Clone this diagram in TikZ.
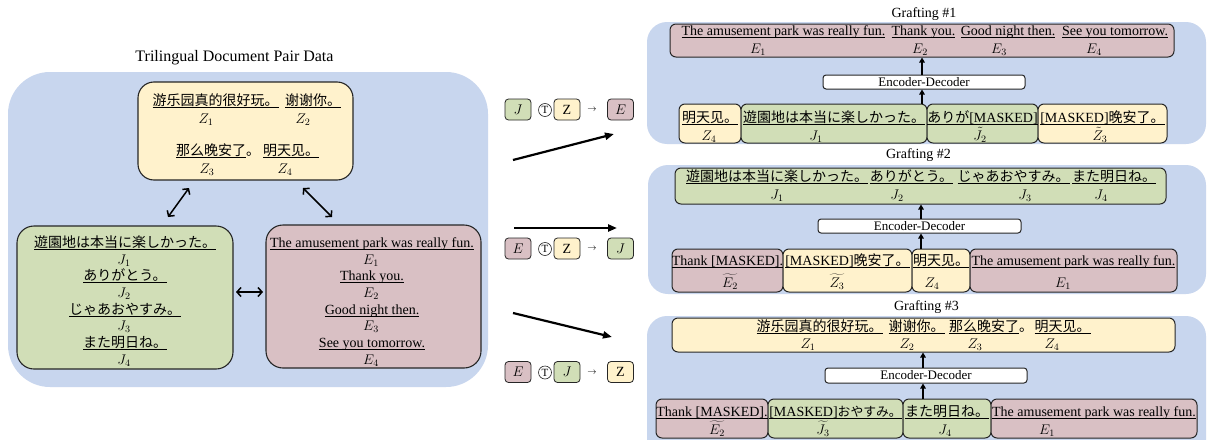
\RequirePackage{fix-cm}
\documentclass[tikz,border=0pt]{standalone}
\usepackage{fontspec}
\setmainfont{Liberation Serif}
\newfontfamily\zh{Noto Sans CJK SC}
\newfontfamily\ja{Noto Sans CJK JP}
\usetikzlibrary{arrows.meta,fit}
\definecolor{bgblue}{HTML}{C8D6EE}
\definecolor{pk}{HTML}{D9C0C4}
\definecolor{yl}{HTML}{FFF2CC}
\definecolor{gr}{HTML}{D1DEB7}
\definecolor{edge}{HTML}{262626}
\newcommand\ulx[1]{\setbox0=\hbox{#1}\rlap{\rule[-2.3pt]{\wd0}{0.6pt}}\box0}
\tikzset{
  panel/.style={fill=bgblue, draw=none},
  bigbox/.style={draw=edge, line width=1.1pt, rounded corners=17pt, inner sep=0pt},
  cell/.style={draw=edge, line width=1pt, rounded corners=6pt, inner sep=0pt},
  fbox/.style={draw=edge, line width=0.8pt, rounded corners=3.5pt, minimum width=26pt, minimum height=21pt, inner sep=0pt},
  enc/.style={draw=edge, fill=white, line width=1pt, rounded corners=3pt, inner sep=0pt, font=\fontsize{13}{13}\selectfont},
  txt/.style={anchor=base, inner sep=0pt},
  ttl/.style={anchor=base, inner sep=0pt},
  tcirc/.style={circle, draw=edge, line width=0.6pt, inner sep=0pt, minimum size=13pt, font=\fontsize{11}{11}\selectfont},
  bigarrow/.style={line width=2.2pt, -{Triangle[length=9pt,width=7pt]}},
  duoarrow/.style={line width=1.5pt, {Straight Barb[length=4pt,width=9pt]}-{Straight Barb[length=4pt,width=9pt]}},
  uparrow/.style={line width=1.8pt, -{Triangle[length=5pt,width=5.5pt]}},
}
\begin{document}
\begin{tikzpicture}[x=1pt,y=-1pt, every node/.style={font=\fontsize{14}{17}\selectfont}]
\useasboundingbox (0,0) rectangle (1207,439);
\clip (0,0) rectangle (1207,439);
\fill[white] (0,0) rectangle (1207,439);

% ---------------- left panel ----------------
\node[ttl, font=\fontsize{16}{18}\selectfont] (title) at (234.5,61) {Trilingual Document Pair Data};
\fill[panel, rounded corners=42pt] (8,72) rectangle (488,387);

\node[bigbox, fill=yl, rounded corners=16pt, fit={(138,82)(353,180)}] (ybox) {};
\node[bigbox, fill=gr, fit={(17,226)(233,369)}] (gbox) {};
\node[bigbox, fill=pk, fit={(266,225)(481,368)}] (pbox) {};

\node[txt] (lz1) at (215.5,105) {\zh\ulx{游乐园真的很好玩。}};
\node[txt] (lz2) at (313,105) {\zh\ulx{谢谢你。}};
\node[txt] (lz1l) at (206,123) {$Z_1$};
\node[txt] (lz2l) at (303,123) {$Z_2$};
\node[txt] (lz3) at (218,155) {\zh\ulx{那么晚安了}。};
\node[txt] (lz4) at (291,155) {\zh\ulx{明天见。}};
\node[txt] (lz3l) at (207,173) {$Z_3$};
\node[txt] (lz4l) at (285,173) {$Z_4$};

\node[txt] (lj1) at (125,247) {\ja\ulx{遊園地は本当に楽しかった。}};
\node[txt] (lj1l) at (124,264) {$J_1$};
\node[txt] (lj2) at (125,280) {\ja\ulx{ありがとう。}};
\node[txt] (lj2l) at (124,297) {$J_2$};
\node[txt] (lj3) at (125,314) {\ja\ulx{じゃあおやすみ。}};
\node[txt] (lj3l) at (124,330) {$J_3$};
\node[txt] (lj4) at (125,347) {\ja\ulx{また明日ね。}};
\node[txt] (lj4l) at (124,364) {$J_4$};

\node[txt] (le1) at (372,247) {\ulx{The amusement park was really fun.}};
\node[txt] (le1l) at (371,264) {$E_1$};
\node[txt] (le2) at (372,280) {\ulx{Thank you.}};
\node[txt] (le2l) at (371,297) {$E_2$};
\node[txt] (le3) at (372,314) {\ulx{Good night then.}};
\node[txt] (le3l) at (371,330) {$E_3$};
\node[txt] (le4) at (372,347) {\ulx{See you tomorrow.}};
\node[txt] (le4l) at (371,364) {$E_4$};

\coordinate (yg1) at (189,188); \coordinate (yg2) at (168,217);
\coordinate (yp1) at (303,188); \coordinate (yp2) at (332,217);
\coordinate (gp1) at (236,292); \coordinate (gp2) at (263,292);
\draw[duoarrow] (yg1) -- (yg2);
\draw[duoarrow] (yp1) -- (yp2);
\draw[duoarrow] (gp1) -- (gp2);

% ---------------- middle formulas ----------------
\node[fbox, fill=gr] (f1a) at (518,109.5) {$J$};
\node[tcirc] (f1t) at (545,110) {T};
\node[fbox, fill=yl] (f1b) at (567,109.5) {Z};
\node[inner sep=0pt, font=\fontsize{9}{9}\selectfont] (f1r) at (592,110) {$\rightarrow$};
\node[fbox, fill=pk] (f1c) at (620.5,109.5) {$E$};

\node[fbox, fill=pk] (f2a) at (518,248.5) {$E$};
\node[tcirc] (f2t) at (545,249) {T};
\node[fbox, fill=yl] (f2b) at (567,248.5) {Z};
\node[inner sep=0pt, font=\fontsize{9}{9}\selectfont] (f2r) at (592,249) {$\rightarrow$};
\node[fbox, fill=gr] (f2c) at (620.5,248.5) {$J$};

\node[fbox, fill=pk] (f3a) at (518,372) {$E$};
\node[tcirc] (f3t) at (545,372.5) {T};
\node[fbox, fill=gr] (f3b) at (567,372) {$J$};
\node[inner sep=0pt, font=\fontsize{9}{9}\selectfont] (f3r) at (592,372.5) {$\rightarrow$};
\node[fbox, fill=yl] (f3c) at (620.5,372) {Z};

\coordinate (b1s) at (513,160); \coordinate (b1e) at (614,134);
\coordinate (b2s) at (514,228); \coordinate (b2e) at (617,228);
\coordinate (b3s) at (513,313); \coordinate (b3e) at (612,337);
\draw[bigarrow] (b1s) -- (b1e);
\draw[bigarrow] (b2s) -- (b2e);
\draw[bigarrow] (b3s) -- (b3e);

% ---------------- Grafting #1 ----------------
\node[ttl] (g1title) at (924,17) {Grafting \#1};
\fill[panel, rounded corners=20pt] (647,22) rectangle (1206,144);
\node[cell, fill=pk, fit={(670,24)(1174,57)}] (g1top) {};
\node[txt] (g1e1) at (783.5,35) {\ulx{The amusement park was really fun.}};
\node[txt] (g1e2) at (923.5,35) {\ulx{Thank you.}};
\node[txt] (g1e3) at (1008,35) {\ulx{Good night then.}};
\node[txt] (g1e4) at (1115,35) {\ulx{See you tomorrow.}};
\node[txt] (g1e1l) at (758,53) {$E_1$};
\node[txt] (g1e2l) at (920,53) {$E_2$};
\node[txt] (g1e3l) at (999,53) {$E_3$};
\node[txt] (g1e4l) at (1094,53) {$E_4$};
\node[enc, minimum width=202pt, minimum height=14pt] (g1enc) at (924,82) {Encoder-Decoder};
\node[cell, fill=yl, fit={(679,104)(741,143)}] (g1c1) {};
\node[cell, fill=gr, fit={(741,104)(927,143)}] (g1c2) {};
\node[cell, fill=gr, fit={(927,104)(1038,143)}] (g1c3) {};
\node[cell, fill=yl, fit={(1038,104)(1167,143)}] (g1c4) {};
\node[txt] (g1t1) at (710,122) {\zh\ulx{明天见。}};
\node[txt] (g1t2) at (834,122) {\ja\ulx{遊園地は本当に楽しかった。}};
\node[txt] (g1t3) at (982.5,122) {\ulx{\ja ありが\rmfamily[MASKED]}};
\node[txt] (g1t4) at (1102.5,122) {\ulx{[MASKED]\zh 晚安了。}};
\node[txt] (g1t1l) at (709,140) {$Z_4$};
\node[txt] (g1t2l) at (816,140) {$J_1$};
\node[txt] (g1t3l) at (980,140) {$\tilde{J}_2$};
\node[txt] (g1t4l) at (1100,140) {$\tilde{Z}_3$};
\coordinate (g1x) at (922,104);
\draw[uparrow] (g1x) -- (g1x |- g1enc.south);
\draw[uparrow] (g1x |- g1enc.north) -- (g1x |- g1top.south);

% ---------------- Grafting #2 ----------------
\node[ttl] (g2title) at (918.5,158) {Grafting \#2};
\fill[panel, rounded corners=20pt] (648,165) rectangle (1206,294);
\node[cell, fill=gr, fit={(675,168)(1166,204)}] (g2top) {};
\node[txt] (g2j1) at (777,181) {\ja\ulx{遊園地は本当に楽しかった。}};
\node[txt] (g2j2) at (911.5,181) {\ja\ulx{ありがとう。}};
\node[txt] (g2j3) at (1013.5,181) {\ja\ulx{じゃあおやすみ。}};
\node[txt] (g2j4) at (1114,181) {\ja\ulx{また明日ね。}};
\node[txt] (g2j1l) at (777,199) {$J_1$};
\node[txt] (g2j2l) at (897,199) {$J_2$};
\node[txt] (g2j3l) at (1025,199) {$J_3$};
\node[txt] (g2j4l) at (1101,199) {$J_4$};
\node[enc, minimum width=203pt, minimum height=14pt] (g2enc) at (919.5,226) {Encoder-Decoder};
\node[cell, fill=pk, fit={(672,249)(783,292)}] (g2c1) {};
\node[cell, fill=yl, fit={(783,249)(912,292)}] (g2c2) {};
\node[cell, fill=yl, fit={(912,249)(970,292)}] (g2c3) {};
\node[cell, fill=pk, fit={(970,249)(1177,292)}] (g2c4) {};
\node[txt] (g2t1) at (727.5,265) {\ulx{Thank [MASKED].}};
\node[txt] (g2t2) at (847.5,265) {\ulx{[MASKED]\zh 晚安了。}};
\node[txt] (g2t3) at (941,265) {\zh\ulx{明天见。}};
\node[txt] (g2t4) at (1073.5,265) {\ulx{The amusement park was really fun.}};
\node[txt] (g2t1l) at (730,287) {$\widetilde{E_2}$};
\node[txt] (g2t2l) at (837,287) {$\widetilde{Z_3}$};
\node[txt] (g2t3l) at (932,287) {$Z_4$};
\node[txt] (g2t4l) at (1063,287) {$E_1$};
\coordinate (g2x) at (921,249);
\draw[uparrow] (g2x) -- (g2x |- g2enc.south);
\draw[uparrow] (g2x |- g2enc.north) -- (g2x |- g2top.south);

% ---------------- Grafting #3 ----------------
\node[ttl] (g3title) at (926.5,310) {Grafting \#3};
\fill[panel, rounded corners=20pt] (647,316) rectangle (1206,470);
\node[cell, fill=yl, fit={(672,318)(1175,352)}] (g3top) {};
\node[txt] (g3z1) at (819.5,331) {\zh\ulx{游乐园真的很好玩。}};
\node[txt] (g3z2) at (916.5,331) {\zh\ulx{谢谢你。}};
\node[txt] (g3z3) at (991,331) {\zh\ulx{那么晚安了}。};
\node[txt] (g3z4) at (1062.5,331) {\zh\ulx{明天见。}};
\node[txt] (g3z1l) at (808,348) {$Z_1$};
\node[txt] (g3z2l) at (907,348) {$Z_2$};
\node[txt] (g3z3l) at (975,348) {$Z_3$};
\node[txt] (g3z4l) at (1052,348) {$Z_4$};
\node[enc, minimum width=202pt, minimum height=15pt] (g3enc) at (926,375.5) {Encoder-Decoder};
\node[cell, fill=pk, fit={(656,399)(768,438)}] (g3c1) {};
\node[cell, fill=gr, fit={(768,399)(903,438)}] (g3c2) {};
\node[cell, fill=gr, fit={(903,399)(991,438)}] (g3c3) {};
\node[cell, fill=pk, fit={(991,399)(1197,438)}] (g3c4) {};
\node[txt] (g3t1) at (712,416) {\ulx{Thank [MASKED].}};
\node[txt] (g3t2) at (835.5,416) {\ulx{[MASKED]\ja\fontsize{12.8}{15}\selectfont おやすみ。}};
\node[txt] (g3t3) at (947,416) {\ja\ulx{また明日ね。}};
\node[txt] (g3t4) at (1094,416) {\ulx{The amusement park was really fun.}};
\node[txt] (g3t1l) at (717,434) {$\widetilde{E_2}$};
\node[txt] (g3t2l) at (823,434) {$\widetilde{J_3}$};
\node[txt] (g3t3l) at (945,434) {$J_4$};
\node[txt] (g3t4l) at (1047,434) {$E_1$};
\coordinate (g3x) at (923,399);
\draw[uparrow] (g3x) -- (g3x |- g3enc.south);
\draw[uparrow] (g3x |- g3enc.north) -- (g3x |- g3top.south);
\end{tikzpicture}
\end{document}
